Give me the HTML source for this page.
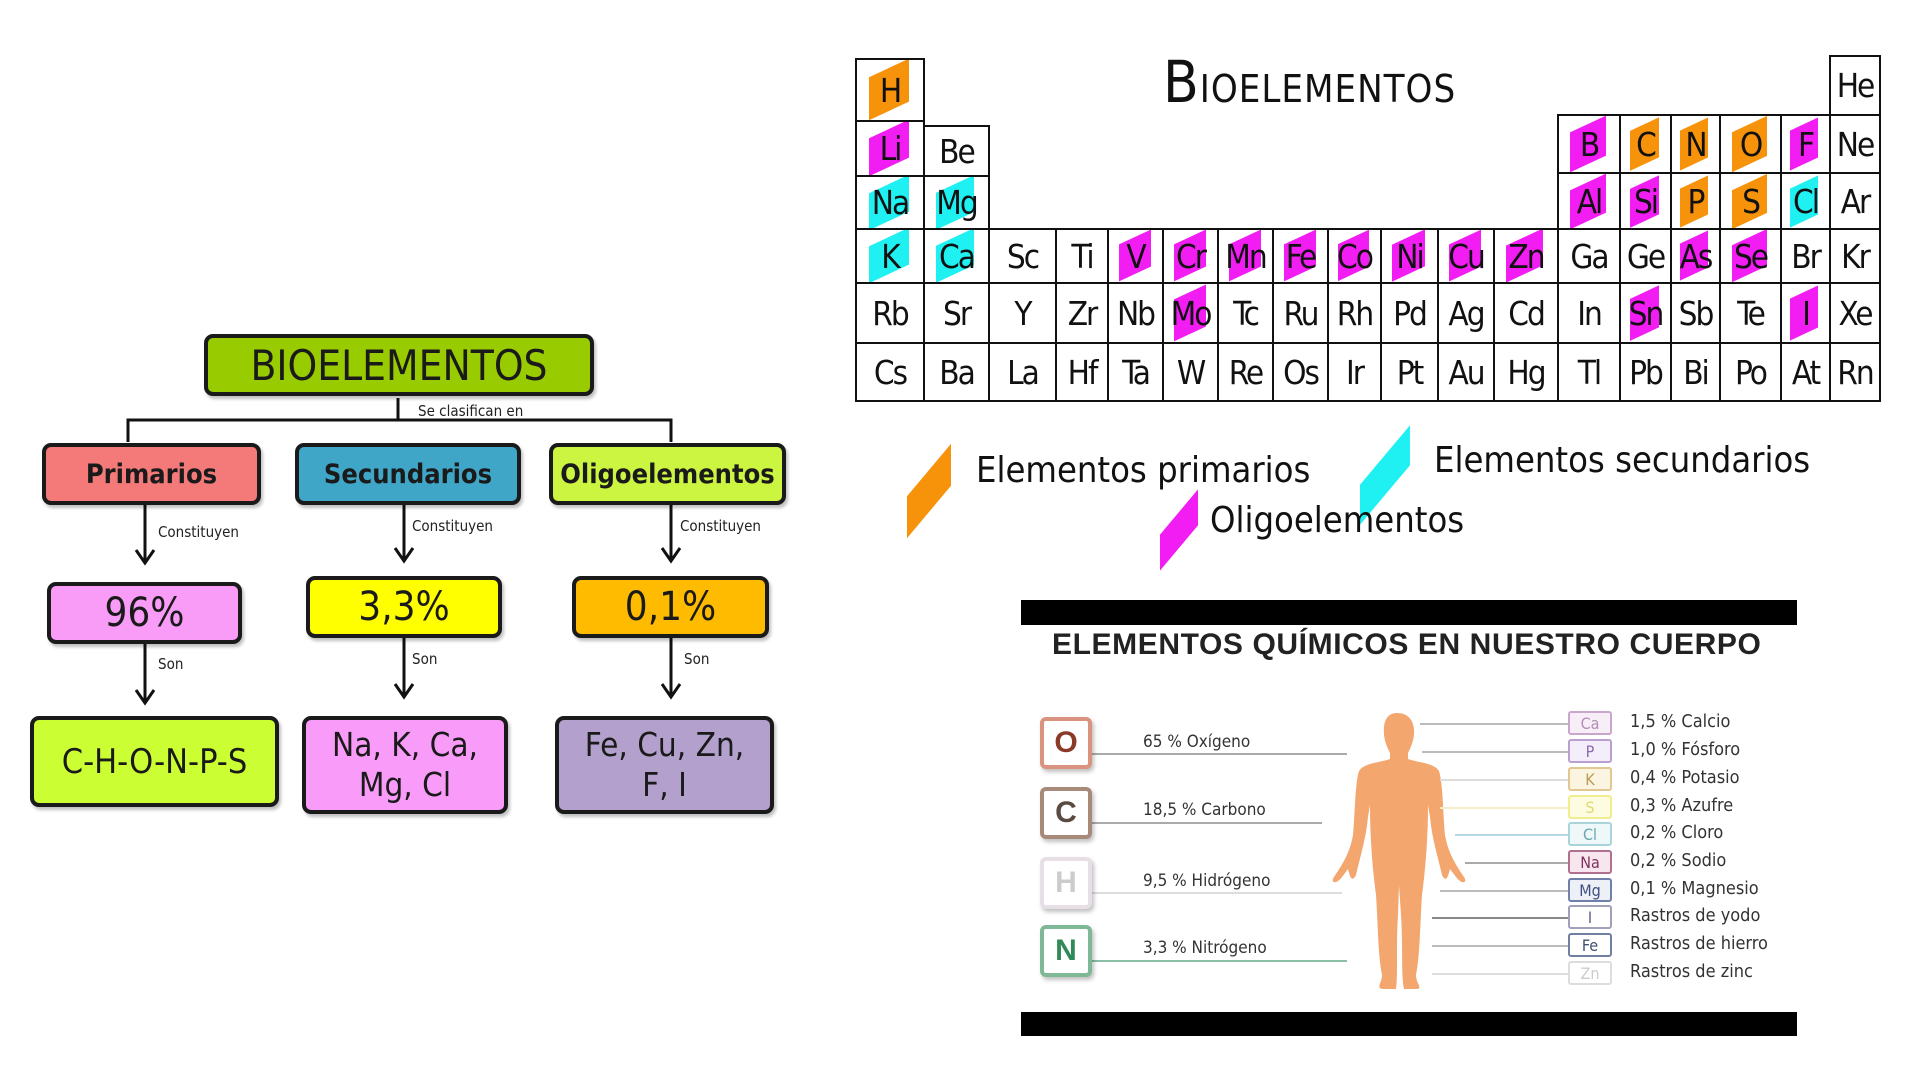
<!DOCTYPE html>
<html><head><meta charset="utf-8">
<style>
*{margin:0;padding:0;box-sizing:border-box}
body{width:1920px;height:1080px;background:#fff;position:relative;overflow:hidden;font-family:"Liberation Sans",sans-serif}
.a{position:absolute}
.box{position:absolute;border:4px solid #1a1a1a;border-radius:9px;display:flex;align-items:center;justify-content:center;text-align:center;color:#1a1a1a;box-shadow:2px 3px 3px rgba(0,0,0,.25)}
.hd{font-family:"DejaVu Sans Condensed","DejaVu Sans",sans-serif}
.sm{position:absolute;font-size:15px;color:#222;font-family:"DejaVu Sans Condensed","DejaVu Sans",sans-serif}
.cell{position:absolute;border:2.5px solid #111;display:flex;align-items:center;justify-content:center;font-family:"DejaVu Sans Condensed","Liberation Sans Narrow",sans-serif;font-size:33px;color:#111;letter-spacing:-2px;overflow:hidden}
.cell span{position:relative;z-index:2}
.hl{position:absolute;left:18%;top:14%;width:60%;height:72%;transform:skewY(-25deg);z-index:1}
.o{background:#f7930a}.m{background:#f21df2}.c{background:#1ff0f2}
.leg{position:absolute;font-family:"DejaVu Sans Condensed",sans-serif;font-weight:300;font-size:36px;color:#111;white-space:nowrap}
.lbox{position:absolute;width:52px;height:52px;border:4px solid;border-radius:6px;display:flex;align-items:center;justify-content:center;font-weight:bold;font-size:30px;background:#fff;box-shadow:2px 3px 4px rgba(0,0,0,.25)}
.ll{position:absolute;font-family:"DejaVu Sans Condensed",sans-serif;font-size:17px;color:#333}
.rbox{position:absolute;left:1568px;width:44px;height:24px;border:2px solid;border-radius:3px;font-size:16px;display:flex;align-items:center;justify-content:center;font-family:"DejaVu Sans Condensed",sans-serif;background:#fff}
.rl{position:absolute;left:1630px;font-family:"DejaVu Sans Condensed",sans-serif;font-size:18px;color:#333}
.ln{position:absolute;height:2px;background:#999}
</style></head><body>

<div class="box hd" style="left:204px;top:334px;width:390px;height:62px;background:#99cc00;font-size:42px;">BIOELEMENTOS</div>
<svg class="a" style="left:0;top:0" width="800" height="1080">
<g stroke="#111" stroke-width="3" fill="none">
<path d="M398 398 V420 M128 442 V420 H671 V442"/>
<path d="M145 505 V562 M136 550 L145 563 L154 550"/>
<path d="M404 505 V560 M395 548 L404 561 L413 548"/>
<path d="M671 505 V560 M662 548 L671 561 L680 548"/>
<path d="M145 644 V702 M136 690 L145 703 L154 690"/>
<path d="M404 638 V696 M395 684 L404 697 L413 684"/>
<path d="M671 638 V696 M662 684 L671 697 L680 684"/>
</g></svg>
<div class="sm" style="left:418px;top:402px">Se clasifican en</div>
<div class="box hd" style="left:42px;top:443px;width:219px;height:62px;background:#f47a7a;font-size:27px;font-weight:bold">Primarios</div>
<div class="box hd" style="left:295px;top:443px;width:226px;height:62px;background:#3fa6c8;font-size:27px;font-weight:bold">Secundarios</div>
<div class="box hd" style="left:549px;top:443px;width:237px;height:62px;background:#ccf542;font-size:27px;font-weight:bold">Oligoelementos</div>
<div class="sm" style="left:158px;top:523px">Constituyen</div>
<div class="sm" style="left:412px;top:517px">Constituyen</div>
<div class="sm" style="left:680px;top:517px">Constituyen</div>
<div class="box hd" style="left:47px;top:582px;width:195px;height:62px;background:#f89cf7;font-size:40px">96%</div>
<div class="box hd" style="left:306px;top:576px;width:196px;height:62px;background:#ffff00;font-size:40px">3,3%</div>
<div class="box hd" style="left:572px;top:576px;width:197px;height:62px;background:#ffbb00;font-size:40px">0,1%</div>
<div class="sm" style="left:158px;top:655px">Son</div>
<div class="sm" style="left:412px;top:650px">Son</div>
<div class="sm" style="left:684px;top:650px">Son</div>
<div class="box hd" style="left:30px;top:716px;width:249px;height:91px;background:#ccff33;font-size:34px">C-H-O-N-P-S</div>
<div class="box hd" style="left:302px;top:716px;width:206px;height:98px;background:#f99cf9;font-size:33px;line-height:40px">Na, K, Ca,<br>Mg, Cl</div>
<div class="box hd" style="left:555px;top:716px;width:219px;height:98px;background:#b3a0cc;font-size:33px;line-height:40px">Fe, Cu, Zn,<br>F, I</div>

<div class="a" style="left:1163px;top:48px;font-family:'DejaVu Sans Condensed',sans-serif;font-weight:200;color:#111;letter-spacing:1px;white-space:nowrap"><span style="font-size:58px">B</span><span style="font-size:38px">IOELEMENTOS</span></div>
<div id="pt"></div>
<script>
var X=[855,923,988,1055,1107,1162,1217,1272,1327,1380,1437,1493,1557,1619,1670,1719,1780,1829,1879];
var Y=[58,120,175,228,282,342,400];
var rows=[
["H",,,,,,,,,,,,,,,,,"He"],
["Li","Be",,,,,,,,,,,"B","C","N","O","F","Ne"],
["Na","Mg",,,,,,,,,,,"Al","Si","P","S","Cl","Ar"],
["K","Ca","Sc","Ti","V","Cr","Mn","Fe","Co","Ni","Cu","Zn","Ga","Ge","As","Se","Br","Kr"],
["Rb","Sr","Y","Zr","Nb","Mo","Tc","Ru","Rh","Pd","Ag","Cd","In","Sn","Sb","Te","I","Xe"],
["Cs","Ba","La","Hf","Ta","W","Re","Os","Ir","Pt","Au","Hg","Tl","Pb","Bi","Po","At","Rn"]];
var col={H:"o",C:"o",N:"o",O:"o",P:"o",S:"o",Na:"c",Mg:"c",K:"c",Ca:"c",Cl:"c"};
"Li B F Al Si V Cr Mn Fe Co Ni Cu Zn As Se Mo Sn I".split(" ").forEach(function(s){col[s]="m"});
var h="";
rows.forEach(function(r,i){r.forEach(function(s,j){if(!s)return;
var t=Y[i],b=Y[i+1];
if(s=="He"){t=55;b=114;}
if(i==1&&j>=12)t=114;
if(i==1&&j==1)t=125;
if(i==1&&j==17)t=114;
if(i==2&&j==17)t=172;if(i==1&&j>=12)b=172;if(i==2&&j>=12)t=172;
h+='<div class="cell" style="left:'+X[j]+'px;top:'+t+'px;width:'+(X[j+1]-X[j]+2)+'px;height:'+(b-t+2)+'px">'+(col[s]?'<div class="hl '+col[s]+'"></div>':'')+'<span>'+s+'</span></div>';
})});
document.getElementById("pt").innerHTML=h;
</script>

<div class="a o" style="left:907px;top:470px;width:44px;height:42px;transform:skewY(-50deg)"></div>
<div class="leg" style="left:976px;top:450px">Elementos primarios</div>
<div class="a c" style="left:1360px;top:455px;width:50px;height:40px;transform:skewY(-50deg)"></div>
<div class="leg" style="left:1434px;top:440px">Elementos secundarios</div>
<div class="a m" style="left:1160px;top:512px;width:38px;height:36px;transform:skewY(-50deg)"></div>
<div class="leg" style="left:1210px;top:500px">Oligoelementos</div>

<div class="a" style="left:1021px;top:600px;width:776px;height:25px;background:#000"></div>
<div class="a" style="left:1021px;top:1012px;width:776px;height:24px;background:#000"></div>
<div class="a" style="left:1052px;top:628px;font-weight:bold;font-size:30px;letter-spacing:0.6px;color:#222;white-space:nowrap">ELEMENTOS QUÍMICOS EN NUESTRO CUERPO</div>

<div class="ln" style="left:1092px;top:753px;width:255px;background:#aaa"></div>
<div class="ln" style="left:1092px;top:822px;width:230px;background:#aaa"></div>
<div class="ln" style="left:1092px;top:892px;width:250px;background:#ddd"></div>
<div class="ln" style="left:1092px;top:960px;width:255px;background:#8cbfa6"></div>
<div class="lbox" style="left:1040px;top:717px;border-color:#d9937e;color:#8a3a26">O</div>
<div class="lbox" style="left:1040px;top:787px;border-color:#a88a7a;color:#5a4a40">C</div>
<div class="lbox" style="left:1040px;top:857px;border-color:#e6e0e6;color:#ccc">H</div>
<div class="lbox" style="left:1040px;top:925px;border-color:#7fb896;color:#2e8a56">N</div>
<div class="ll" style="left:1143px;top:732px">65 % Oxígeno</div>
<div class="ll" style="left:1143px;top:800px">18,5 % Carbono</div>
<div class="ll" style="left:1143px;top:871px">9,5 % Hidrógeno</div>
<div class="ll" style="left:1143px;top:938px">3,3 % Nitrógeno</div>

<svg class="a" style="left:1320px;top:705px" width="160" height="290">
<path fill="#f3a66e" d="M77 8 C66 8 63 18 64 30 C65 38 68 44 70 48 L70 54 C58 58 44 58 39 66 C35 78 35 110 33 130 C30 148 22 160 14 172 C10 178 16 180 22 172 L28 164 C30 172 32 178 36 170 C40 152 46 134 48 112 L50 100 C50 130 52 160 56 190 C58 220 58 250 62 270 C62 278 56 282 62 284 L76 284 C78 270 76 240 78 210 L79 180 L81 210 C83 240 81 270 84 284 L98 284 C102 282 96 278 96 270 C100 250 100 220 102 190 C106 160 108 130 108 100 L110 112 C112 134 118 152 122 170 C126 178 128 172 130 164 L136 172 C142 180 148 178 144 172 C136 160 128 148 125 130 C123 110 123 78 119 66 C114 58 100 58 88 54 L88 48 C90 44 93 38 94 30 C95 18 90 8 77 8 Z"/>
</svg>

<div class="ln" style="left:1420px;top:723px;width:148px;background:#bbb"></div>
<div class="ln" style="left:1422px;top:751px;width:146px;background:#bbb"></div>
<div class="ln" style="left:1440px;top:779px;width:128px;background:#ddd"></div>
<div class="ln" style="left:1440px;top:807px;width:128px;background:#f2eec8"></div>
<div class="ln" style="left:1455px;top:834px;width:113px;background:#b8d8e2"></div>
<div class="ln" style="left:1465px;top:862px;width:103px;background:#aaa"></div>
<div class="ln" style="left:1440px;top:890px;width:128px;background:#bbb"></div>
<div class="ln" style="left:1432px;top:917px;width:136px;background:#888"></div>
<div class="ln" style="left:1432px;top:945px;width:136px;background:#bbb"></div>
<div class="ln" style="left:1432px;top:973px;width:136px;background:#ddd"></div>

<div class="rbox" style="top:711px;border-color:#c9a6cc;color:#b48cb8;background:#f8eef8">Ca</div>
<div class="rbox" style="top:739px;border-color:#b9a0d0;color:#8a6ab0;background:#f4eefb">P</div>
<div class="rbox" style="top:767px;border-color:#e0c890;color:#b89a50;background:#fbf4e0">K</div>
<div class="rbox" style="top:795px;border-color:#f0ec90;color:#e0da70;background:#fdfbe0">S</div>
<div class="rbox" style="top:822px;border-color:#a8d4da;color:#6aa6b0;background:#eef8f8">Cl</div>
<div class="rbox" style="top:850px;border-color:#b07090;color:#803060;background:#f8e6ee">Na</div>
<div class="rbox" style="top:878px;border-color:#7080a8;color:#405080;background:#eef0f8">Mg</div>
<div class="rbox" style="top:905px;border-color:#a0a0b8;color:#606080">I</div>
<div class="rbox" style="top:933px;border-color:#7080a0;color:#405070">Fe</div>
<div class="rbox" style="top:961px;border-color:#ddd;color:#ccc">Zn</div>
<div class="rl" style="top:711px">1,5 % Calcio</div>
<div class="rl" style="top:739px">1,0 % Fósforo</div>
<div class="rl" style="top:767px">0,4 % Potasio</div>
<div class="rl" style="top:795px">0,3 % Azufre</div>
<div class="rl" style="top:822px">0,2 % Cloro</div>
<div class="rl" style="top:850px">0,2 % Sodio</div>
<div class="rl" style="top:878px">0,1 % Magnesio</div>
<div class="rl" style="top:905px">Rastros de yodo</div>
<div class="rl" style="top:933px">Rastros de hierro</div>
<div class="rl" style="top:961px">Rastros de zinc</div>
</body></html>
